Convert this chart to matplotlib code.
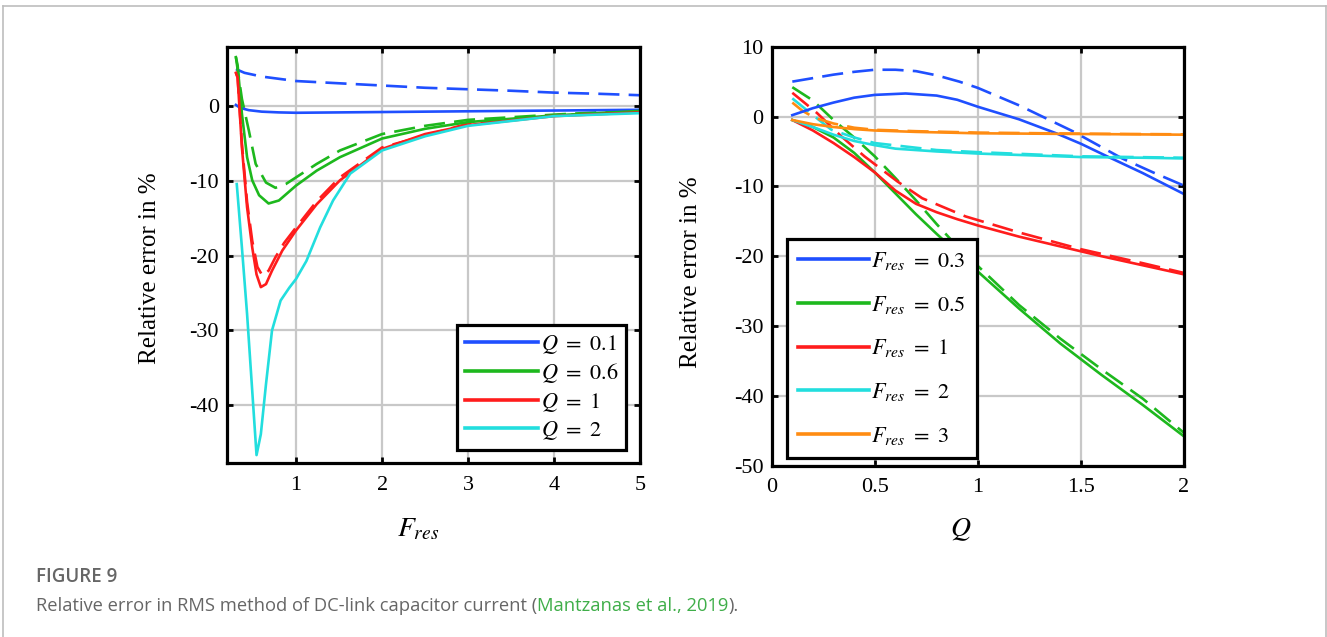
import matplotlib
matplotlib.use("Agg")
import matplotlib.pyplot as plt
from matplotlib.lines import Line2D

W, H = 1327, 637

plt.rcParams["font.family"] = ["Liberation Serif", "DejaVu Serif"]
plt.rcParams["mathtext.fontset"] = "stix"
plt.rcParams["axes.unicode_minus"] = False

BLUE = "#1f4fff"
GREEN = "#1db81d"
RED = "#ff1c1c"
CYAN = "#22dede"
ORANGE = "#ff8c12"
GRID = "#c8c8c8"
CAPTION = "#666666"
LINK = "#3fae49"

# ---- left panel: error vs F_res ----
q01_x = [0.3, 0.35, 0.45, 0.6, 0.8, 1.0, 1.5, 2.0, 3.0, 4.0, 5.0]
q01_y = [0.2, -0.2, -0.5, -0.7, -0.8, -0.85, -0.8, -0.75, -0.65, -0.55, -0.45]
q01d_x = [0.3, 0.4, 0.6, 0.8, 1.0, 1.5, 2.0, 2.5, 3.0, 3.5, 4.0, 4.5, 5.0]
q01d_y = [5.0, 4.5, 4.0, 3.7, 3.4, 3.1, 2.8, 2.5, 2.3, 2.1, 1.85, 1.7, 1.5]

q06_x = [0.3, 0.32, 0.37, 0.43, 0.49, 0.57, 0.68, 0.8, 1.0, 1.24, 1.51, 2.0, 2.5, 3.0, 4.0, 5.0]
q06_y = [6.6, 5.5, -1.0, -6.8, -9.9, -11.9, -13.0, -12.6, -10.6, -8.6, -6.8, -4.3, -3.0, -2.1, -1.2, -0.6]
q06d_x = [0.3, 0.32, 0.37, 0.45, 0.53, 0.65, 0.76, 0.88, 1.0, 1.24, 1.51, 2.0, 2.5, 3.0, 4.0, 5.0]
q06d_y = [6.6, 5.0, 1.0, -3.2, -7.7, -10.2, -10.9, -10.4, -9.5, -7.7, -5.9, -3.7, -2.6, -1.8, -1.1, -0.5]

q1_x = [0.3, 0.32, 0.37, 0.43, 0.49, 0.54, 0.59, 0.65, 0.72, 0.84, 1.0, 1.24, 1.51, 2.0, 2.5, 3.0, 4.0, 5.0]
q1_y = [4.5, 3.9, -5.5, -13.5, -18.9, -22.5, -24.2, -23.8, -22.0, -19.3, -16.6, -13.1, -9.9, -5.7, -3.7, -2.5, -1.3, -0.8]
q1d_x = [0.3, 0.32, 0.37, 0.43, 0.49, 0.55, 0.61, 0.68, 0.76, 0.86, 1.0, 1.24, 1.51, 2.0, 3.0, 4.0, 5.0]
q1d_y = [4.5, 3.9, -5.0, -12.8, -18.0, -21.5, -22.7, -22.0, -20.2, -18.3, -16.2, -12.7, -9.5, -5.5, -2.3, -1.2, -0.7]

q2_x = [0.31, 0.37, 0.43, 0.49, 0.54, 0.59, 0.65, 0.72, 0.82, 0.92, 1.0, 1.12, 1.28, 1.43, 1.63, 2.0, 2.5, 3.0, 4.0, 5.0]
q2_y = [-10.4, -18.9, -27.8, -38.1, -46.7, -43.9, -37.2, -30.0, -26.0, -24.3, -23.1, -20.7, -16.2, -12.6, -9.0, -5.9, -4.0, -2.6, -1.3, -0.9]

# ---- right panel: error vs Q ----
f03_x = [0.1, 0.2, 0.3, 0.4, 0.5, 0.65, 0.8, 0.9, 1.0, 1.2, 1.38, 1.5, 1.62, 1.8, 2.0]
f03_y = [0.2, 1.2, 2.0, 2.7, 3.1, 3.3, 3.0, 2.4, 1.4, -0.4, -2.4, -3.9, -5.6, -8.1, -11.1]
f03d_x = [0.1, 0.2, 0.3, 0.4, 0.5, 0.6, 0.7, 0.8, 0.91, 1.0, 1.2, 1.46, 1.7, 1.85, 2.0]
f03d_y = [5.0, 5.5, 6.0, 6.4, 6.7, 6.7, 6.5, 5.9, 5.0, 4.1, 1.6, -2.1, -6.0, -8.0, -9.9]

f05_x = [0.1, 0.2, 0.3, 0.4, 0.5, 0.6, 0.7, 0.8, 0.9, 1.0, 1.2, 1.4, 1.6, 1.8, 2.0]
f05_y = [-0.5, -1.5, -3.0, -5.2, -8.0, -11.0, -14.0, -16.8, -19.5, -22.2, -27.5, -32.5, -37.0, -41.3, -45.8]
f05d_x = [0.1, 0.2, 0.3, 0.4, 0.5, 0.6, 0.7, 0.8, 0.9, 1.0, 1.2, 1.4, 1.6, 1.8, 2.0]
f05d_y = [4.2, 2.3, -0.5, -3.0, -5.7, -8.8, -12.0, -15.4, -18.6, -21.4, -27.0, -31.8, -36.2, -40.4, -45.3]

f1_x = [0.1, 0.2, 0.3, 0.4, 0.5, 0.6, 0.7, 0.8, 0.9, 1.0, 1.2, 1.4, 1.6, 1.8, 2.0]
f1_y = [-0.5, -2.0, -3.8, -5.8, -8.0, -10.6, -12.5, -13.7, -14.7, -15.6, -17.2, -18.6, -20.0, -21.3, -22.6]
f1d_x = [0.1, 0.22, 0.34, 0.45, 0.61, 0.73, 0.94, 1.2, 1.5, 1.8, 2.0]
f1d_y = [3.4, 0.5, -2.9, -5.7, -9.3, -11.7, -14.3, -16.6, -19.0, -21.0, -22.4]

f2_x = [0.1, 0.2, 0.3, 0.4, 0.5, 0.6, 0.8, 1.0, 1.2, 1.5, 1.8, 2.0]
f2_y = [-0.5, -1.5, -2.6, -3.5, -4.1, -4.6, -5.0, -5.3, -5.5, -5.8, -5.9, -6.0]
f2d_x = [0.1, 0.2, 0.29, 0.4, 0.5, 0.65, 0.8, 1.0, 1.5, 2.0]
f2d_y = [2.6, 0.2, -1.9, -3.0, -3.8, -4.3, -4.8, -5.1, -5.7, -5.9]

f3_x = [0.1, 0.2, 0.3, 0.4, 0.5, 0.7, 1.0, 1.5, 2.0]
f3_y = [-0.5, -1.1, -1.5, -1.8, -2.0, -2.2, -2.4, -2.5, -2.6]
f3d_x = [0.1, 0.15, 0.21, 0.3, 0.4, 0.5, 0.7, 1.0, 1.5, 2.0]
f3d_y = [2.0, 0.8, -0.2, -1.0, -1.6, -1.9, -2.1, -2.3, -2.45, -2.55]

left_xticks = [1, 2, 3, 4, 5]
left_yticks = [0, -10, -20, -30, -40]
right_xticks = [0, 0.5, 1, 1.5, 2]
right_xticklabels = ["0", "0.5", "1", "1.5", "2"]
right_yticks = [10, 0, -10, -20, -30, -40, -50]


def px_box(l, t, r, b):
    return [l / W, 1 - b / H, (r - l) / W, (b - t) / H]


def style(ax):
    for s in ax.spines.values():
        s.set_linewidth(2.3)
        s.set_color("black")
    ax.grid(True, color=GRID, linewidth=1.6)
    ax.set_axisbelow(True)
    ax.tick_params(direction="in", length=4, width=2, top=True, right=True,
                   labelsize=16, colors="black")
    ax.tick_params(axis="x", pad=9)
    ax.tick_params(axis="y", pad=6)


LW = 1.9
DASH = (8, 3.5)

fig = plt.figure(figsize=(W / 100, H / 100), dpi=100)
fig.patch.set_facecolor("white")

# light frame around the figure
frame_kw = dict(color="#bdbdbd", linewidth=1.2, transform=fig.transFigure)
fig.add_artist(Line2D([3.5 / W, 3.5 / W], [0, 1 - 6.3 / H], **frame_kw))
fig.add_artist(Line2D([3.5 / W, 1325.5 / W], [1 - 6.3 / H, 1 - 6.3 / H], **frame_kw))
fig.add_artist(Line2D([1325.5 / W, 1325.5 / W], [0, 1 - 6.3 / H], **frame_kw))

# ---------------- left panel ----------------
ax1 = fig.add_axes(px_box(227.3, 46.7, 640, 463.3))
style(ax1)
ax1.plot(q01d_x, q01d_y, color=BLUE, lw=LW, dashes=DASH)
ax1.plot(q06d_x, q06d_y, color=GREEN, lw=LW, dashes=DASH)
ax1.plot(q1d_x, q1d_y, color=RED, lw=LW, dashes=DASH)
ax1.plot(q01_x, q01_y, color=BLUE, lw=LW, label=r"$Q\ =\ 0.1$")
ax1.plot(q06_x, q06_y, color=GREEN, lw=LW, label=r"$Q\ =\ 0.6$")
ax1.plot(q1_x, q1_y, color=RED, lw=LW, label=r"$Q\ =\ 1$")
ax1.plot(q2_x, q2_y, color=CYAN, lw=LW, label=r"$Q\ =\ 2$")
ax1.set_xlim(0.2, 5)
ax1.set_ylim(-47.8, 8)
ax1.set_xticks(left_xticks)
ax1.set_yticks(left_yticks)
ax1.set_xticklabels([str(v) for v in left_xticks])
ax1.set_yticklabels([str(v) for v in left_yticks])

leg1 = ax1.legend(loc="lower right", bbox_to_anchor=(0.966, 0.032), borderaxespad=0,
                  fontsize=16, handlelength=3.3, handletextpad=0.1, labelspacing=0.25,
                  borderpad=0.35, fancybox=False, framealpha=1, edgecolor="black")
leg1.get_frame().set_linewidth(2.3)
for ln in leg1.get_lines():
    ln.set_linewidth(2.6)

# ---------------- right panel ----------------
ax2 = fig.add_axes(px_box(771.7, 46.7, 1184, 465.7))
style(ax2)
ax2.plot(f03d_x, f03d_y, color=BLUE, lw=LW, dashes=DASH)
ax2.plot(f05d_x, f05d_y, color=GREEN, lw=LW, dashes=DASH)
ax2.plot(f1d_x, f1d_y, color=RED, lw=LW, dashes=DASH)
ax2.plot(f2d_x, f2d_y, color=CYAN, lw=LW, dashes=DASH)
ax2.plot(f3d_x, f3d_y, color=ORANGE, lw=LW, dashes=DASH)
ax2.plot(f03_x, f03_y, color=BLUE, lw=LW, label=r"$F_{res}\ =\ 0.3$")
ax2.plot(f05_x, f05_y, color=GREEN, lw=LW, label=r"$F_{res}\ =\ 0.5$")
ax2.plot(f1_x, f1_y, color=RED, lw=LW, label=r"$F_{res}\ =\ 1$")
ax2.plot(f2_x, f2_y, color=CYAN, lw=LW, label=r"$F_{res}\ =\ 2$")
ax2.plot(f3_x, f3_y, color=ORANGE, lw=LW, label=r"$F_{res}\ =\ 3$")
ax2.set_xlim(0, 2)
ax2.set_ylim(-50, 10)
ax2.set_xticks(right_xticks)
ax2.set_xticklabels(right_xticklabels)
ax2.set_yticks(right_yticks)
ax2.set_yticklabels([str(v) for v in right_yticks])

leg2 = ax2.legend(loc="lower left", bbox_to_anchor=(0.036, 0.018), borderaxespad=0,
                  fontsize=16, handlelength=3.2, handletextpad=0.1, labelspacing=0.98,
                  borderpad=0.5, fancybox=False, framealpha=1, edgecolor="black")
leg2.get_frame().set_linewidth(2.3)
for ln in leg2.get_lines():
    ln.set_linewidth(2.6)

# axis labels
fig.text(150 / W, 1 - 268 / H, "Relative error in %", rotation=90, ha="center",
         va="center", fontsize=18)
fig.text(691 / W, 1 - 272 / H, "Relative error in %", rotation=90, ha="center",
         va="center", fontsize=18)
fig.text(418 / W, 1 - 536 / H, r"$F_{res}$", ha="center", va="baseline", fontsize=20)
fig.text(961 / W, 1 - 536 / H, r"$Q$", ha="center", va="baseline", fontsize=20)

# caption
fig.text(36 / W, 1 - 582 / H, "FIGURE 9", family="Open Sans", fontweight="semibold",
         fontsize=13.5, color=CAPTION, va="baseline")
t1 = fig.text(36 / W, 1 - 611 / H,
              "Relative error in RMS method of DC-link capacitor current (",
              family="Open Sans", fontsize=13.2, color=CAPTION, va="baseline")
fig.canvas.draw()
r = fig.canvas.get_renderer()
bb = t1.get_window_extent(r)
t2 = fig.text(bb.x1 / W, 1 - 611 / H, "Mantzanas et al., 2019", family="Open Sans",
              fontsize=13.2, color=LINK, va="baseline")
bb2 = t2.get_window_extent(r)
fig.text(bb2.x1 / W, 1 - 611 / H, ").", family="Open Sans", fontsize=13.2,
         color=CAPTION, va="baseline")

fig.savefig("out.png", dpi=100, facecolor="white")
